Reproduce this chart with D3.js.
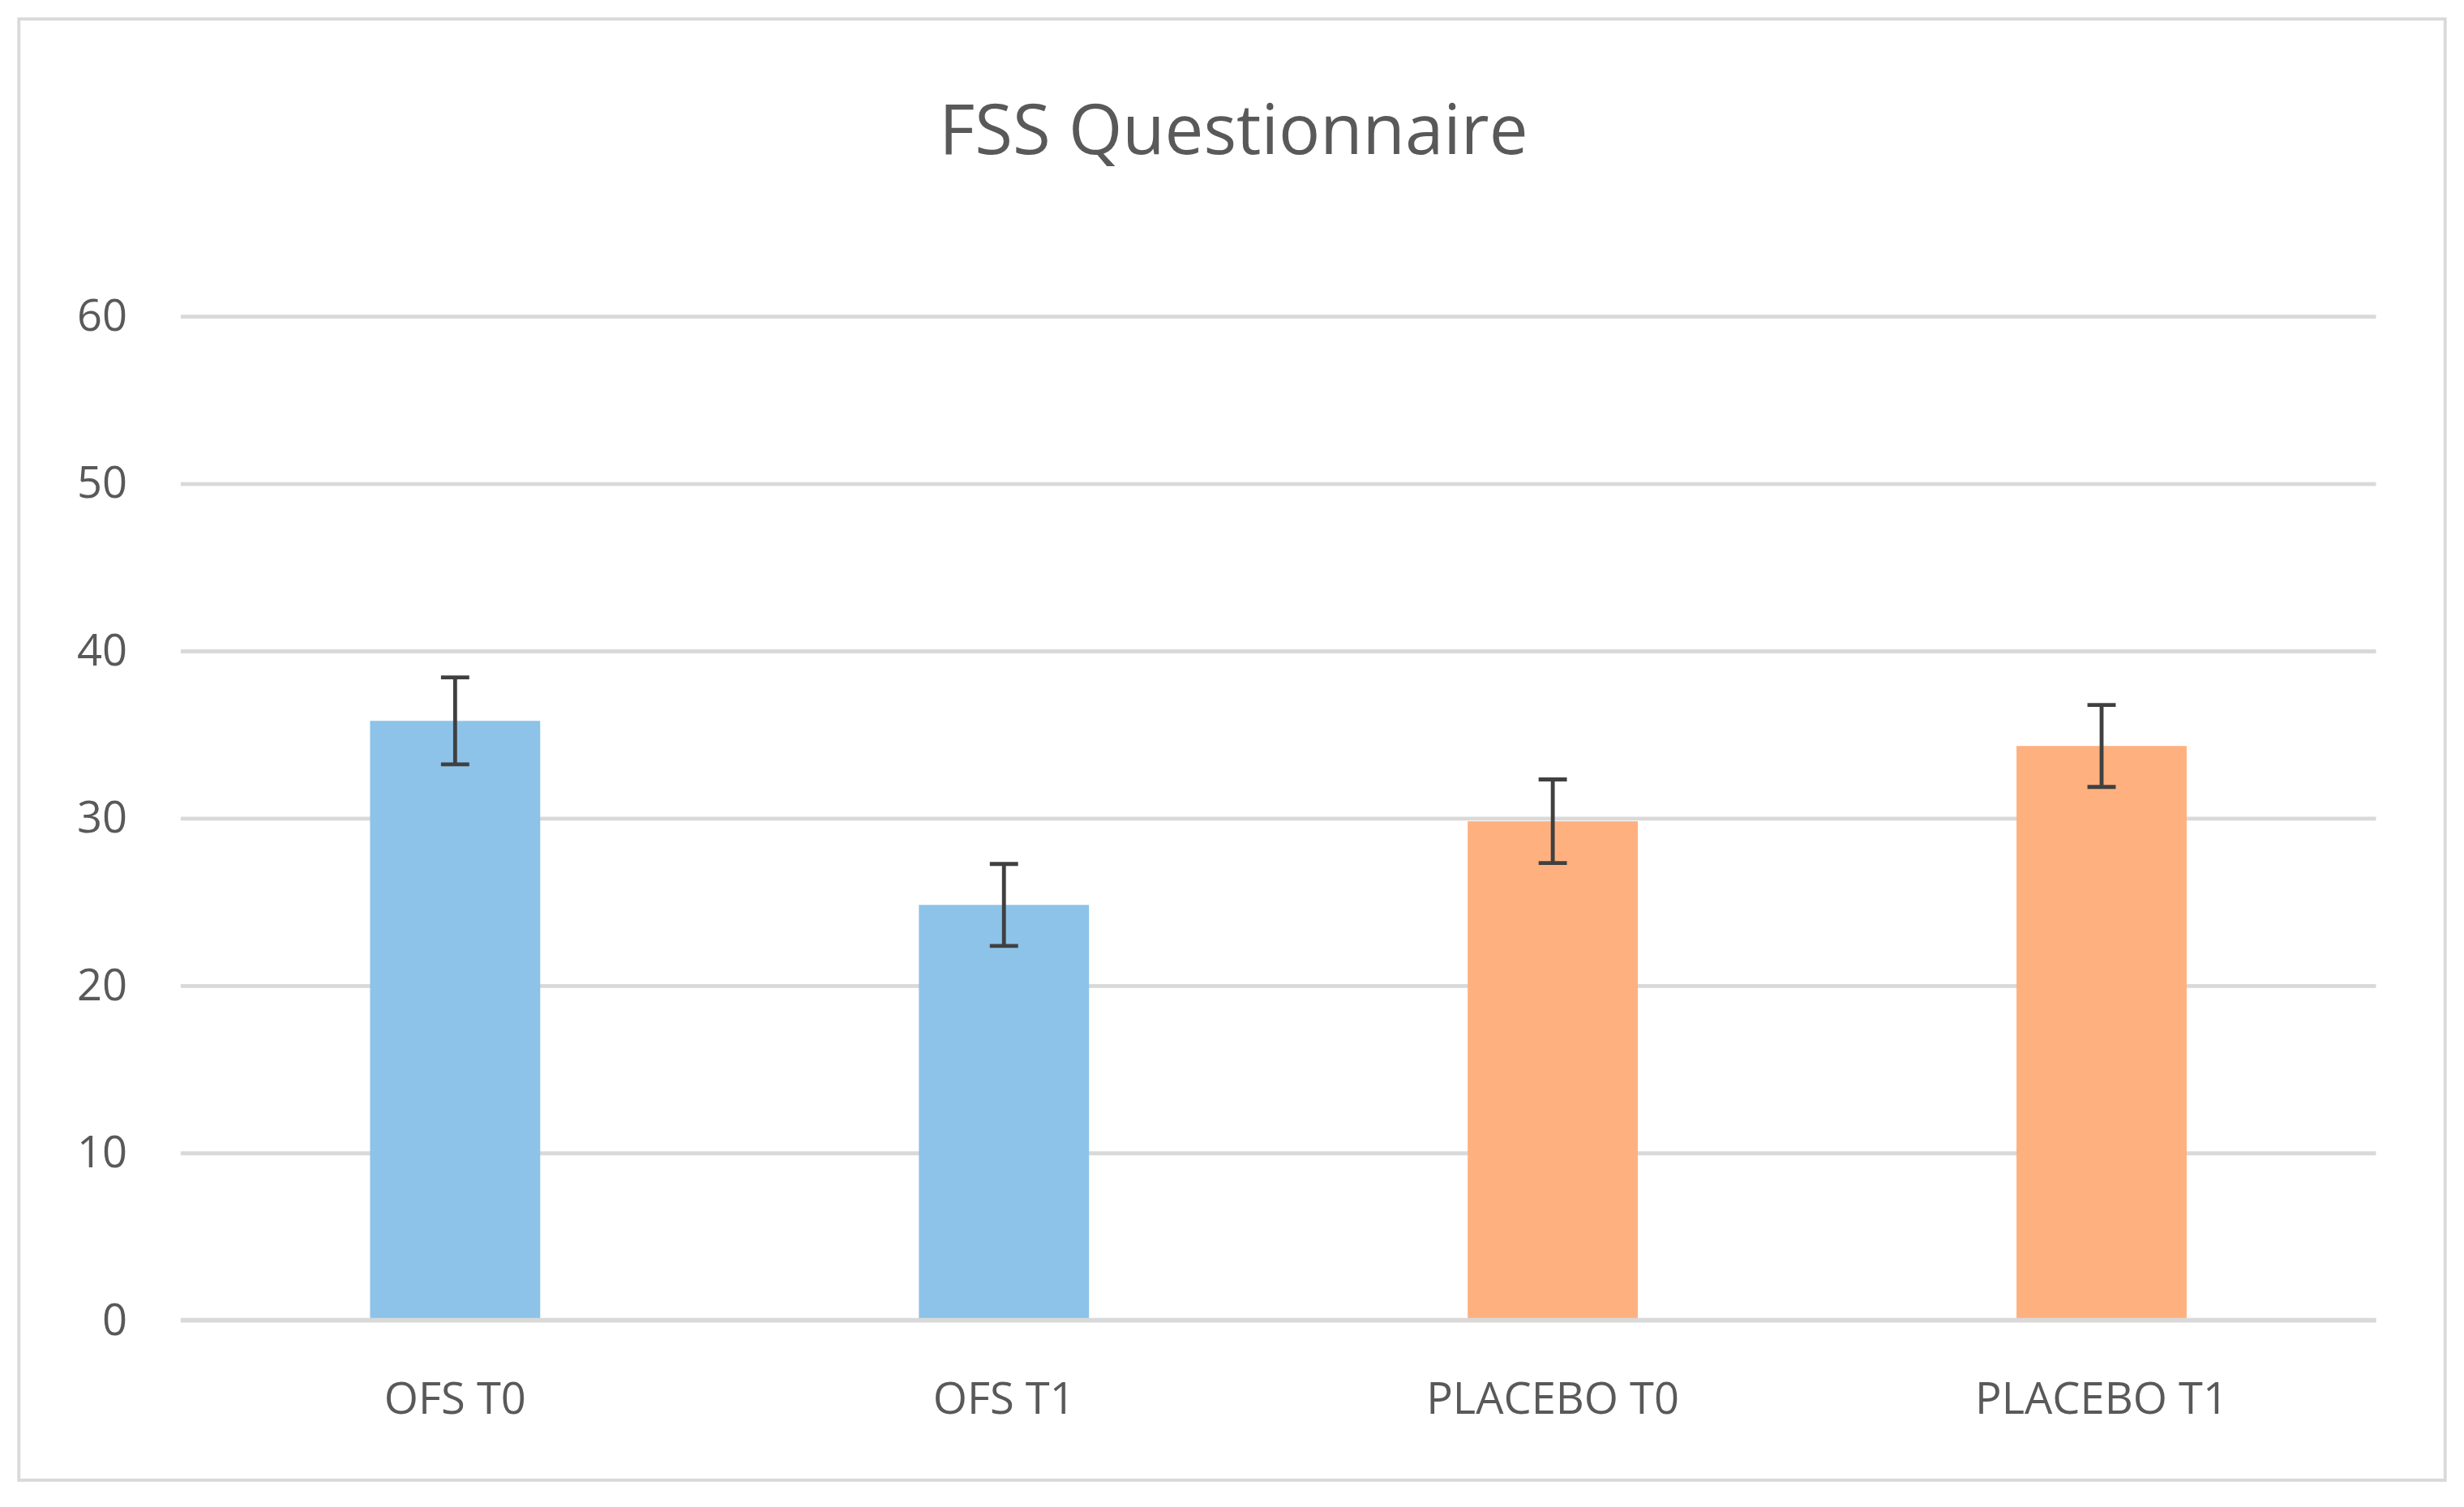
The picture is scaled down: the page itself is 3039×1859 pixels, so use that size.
<!DOCTYPE html>
<html><head><meta charset="utf-8">
<script src="https://cdn.jsdelivr.net/npm/d3@7"></script>
<style>body{margin:0;background:#fff}</style></head>
<body><svg id="c" width="3039" height="1859" viewBox="0 0 1568 959"></svg>
<script>
const categories = ["OFS T0","OFS T1","PLACEBO T0","PLACEBO T1"];
const values = [35.8, 24.8, 29.8, 34.3];
const errors = [2.6, 2.45, 2.5, 2.45];
const colors = ["#8DC3E8","#8DC3E8","#FFB07F","#FFB07F"];
const ticks = [0,10,20,30,40,50,60];

const svg = d3.select("#c");
const font = "'Open Sans', 'Liberation Sans', sans-serif";
svg.append("rect").attr("x",12).attr("y",12).attr("width",1544).attr("height",930)
  .attr("fill","#fff").attr("stroke","#D9D9D9").attr("stroke-width",2);
svg.append("text").attr("x",785).attr("y",98).attr("text-anchor","middle")
  .attr("font-family",font).attr("font-size",44).attr("fill","#595959").text("FSS Questionnaire");

const x = d3.scaleBand().domain(categories).range([115,1512]).paddingInner(0.69).paddingOuter(0.345);
const y = d3.scaleLinear().domain([0,60]).range([840,201]);

const yAxis = svg.append("g").attr("transform","translate(115,0)")
  .call(d3.axisLeft(y).tickValues(ticks).tickSize(-1397).tickPadding(34));
yAxis.select(".domain").remove();
yAxis.selectAll("line").attr("stroke","#D9D9D9").attr("stroke-width",2.5);
yAxis.selectAll("text").attr("font-family",font).attr("font-size",28).attr("fill","#595959");

svg.selectAll(".bar").data(categories).join("rect")
  .attr("x",d=>x(d)).attr("width",x.bandwidth())
  .attr("y",(d,i)=>y(values[i])).attr("height",(d,i)=>y(0)-y(values[i]))
  .attr("fill",(d,i)=>colors[i]);

svg.append("line").attr("x1",115).attr("x2",1512).attr("y1",y(0)).attr("y2",y(0))
  .attr("stroke","#D9D9D9").attr("stroke-width",2.5);

const eg = svg.append("g").attr("stroke","#404040").attr("stroke-width",2.5);
categories.forEach((c,i)=>{
  const cx = x(c)+x.bandwidth()/2;
  const t = y(values[i]+errors[i]), b = y(values[i]-errors[i]);
  eg.append("line").attr("x1",cx).attr("x2",cx).attr("y1",t).attr("y2",b);
  eg.append("line").attr("x1",cx-9).attr("x2",cx+9).attr("y1",t).attr("y2",t);
  eg.append("line").attr("x1",cx-9).attr("x2",cx+9).attr("y1",b).attr("y2",b);
});

svg.selectAll(".xl").data(categories).join("text")
  .attr("x",d=>x(d)+x.bandwidth()/2).attr("y",900).attr("text-anchor","middle")
  .attr("font-family",font).attr("font-size",28).attr("fill","#595959").text(d=>d);
</script></body></html>
